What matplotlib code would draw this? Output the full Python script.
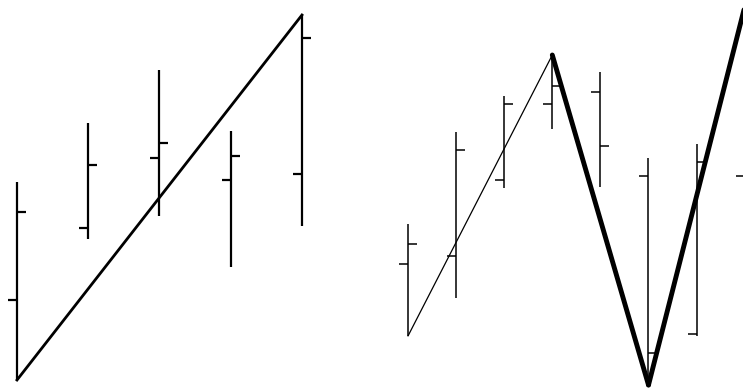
import matplotlib
matplotlib.use("Agg")
import matplotlib.pyplot as plt
from matplotlib.markers import TICKLEFT, TICKRIGHT
import numpy as np

# left panel: five bars, one straight trend line (low of first -> high of last)
left_open = [22, 40, 57.5, 52, 53.5]
left_high = [51.5, 66.25, 79.5, 64.25, 93.25]
left_low = [2, 37.25, 43, 30.25, 40.5]
left_close = [44, 55.75, 61.25, 58, 87.5]
left_zig = [0, 4]  # bar index of swing points

# right panel: eight bars (last one mostly off the edge), zigzag through swings
right_open = [31, 33, 52, 71, 74, 53, 13.5, 53]
right_high = [41, 64, 73, 83.25, 79, 57.5, 61, 95.25]
right_low = [13, 22.5, 50, 64.75, 50.25, 0.75, 13, 40]
right_close = [36, 59.5, 71, 75.5, 60.5, 8.75, 56.5, 60]
right_zig = [0, 3, 5, 7]
right_zig_width = [0.9, 3.5, 3.5]  # first leg thin, the others heavy


def draw_bars(ax, o, h, l, c, lw, tick):
    x = np.arange(len(o))
    ax.vlines(x, l, h, color='black', lw=lw)
    ax.plot(x, o, ls='none', marker=TICKLEFT, ms=tick, mew=lw, color='black')
    ax.plot(x, c, ls='none', marker=TICKRIGHT, ms=tick, mew=lw, color='black')


def zig_values(idx, h, l):
    # alternate low / high starting from a low
    vals = []
    for k, i in enumerate(idx):
        vals.append(l[i] if k % 2 == 0 else h[i])
    return vals


fig = plt.figure(figsize=(7.43, 3.88), dpi=100)
fig.patch.set_facecolor('white')

axL = fig.add_axes([0, 0, 0.5, 1])
axR = fig.add_axes([0.5, 0, 0.5, 1])

draw_bars(axL, left_open, left_high, left_low, left_close, 1.6, 6.5)
zl = zig_values(left_zig, left_high, left_low)
axL.plot(left_zig, zl, color='black', lw=2.0)

draw_bars(axR, right_open, right_high, right_low, right_close, 1.1, 6.5)
zr = zig_values(right_zig, right_high, right_low)
for k in range(len(right_zig) - 1):
    axR.plot(right_zig[k:k + 2], zr[k:k + 2], color='black',
             lw=right_zig_width[k], solid_capstyle='round')

axL.set_xlim(-0.2386, 4.976)
axR.set_xlim(-0.7588, 6.9647)
for ax in (axL, axR):
    ax.set_ylim(0, 97)
    ax.axis('off')

fig.savefig('out.png', dpi=100, facecolor='white')
